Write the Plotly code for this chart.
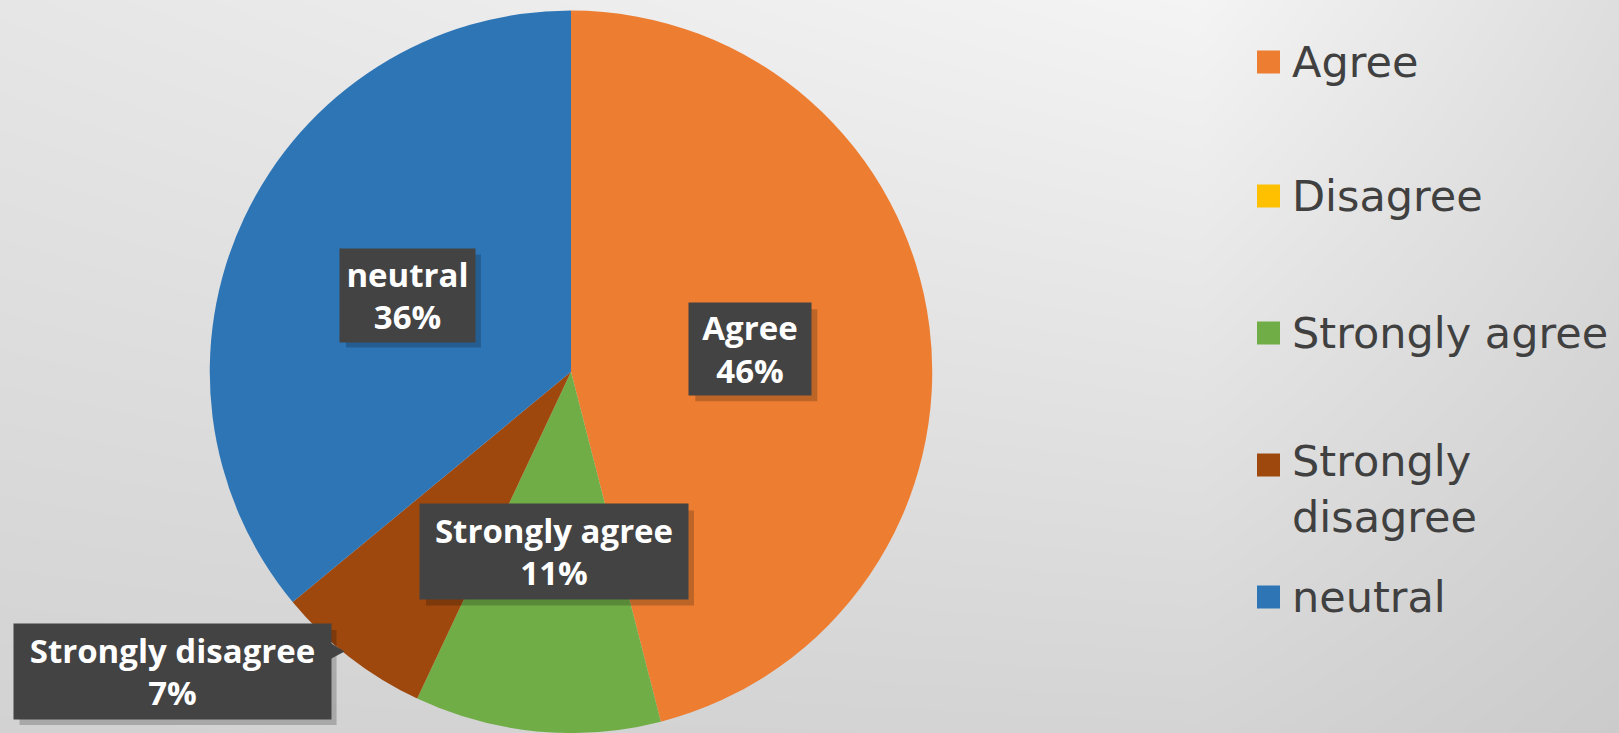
import math
import plotly.graph_objects as go

# ---- data ----
categories = ["Agree", "Disagree", "Strongly agree", "Strongly disagree", "neutral"]
percent_values = [46, 0, 11, 7, 36]
slice_colors = ["#ED7D31", "#FFC000", "#70AD47", "#9E480E", "#2E75B6"]

W, H = 1619, 733

# pie geometry (pixels)
CX, CY, R = 571, 372, 361.5

# label box style (width, height) and placement tweaks (radius factor, angle nudge in degrees)
label_box = {
    "Agree": (122, 92), "neutral": (135, 93),
    "Strongly agree": (268, 95), "Strongly disagree": (317, 95),
}
label_place = {"Strongly disagree": (1.38, 15.3)}

fig = go.Figure()

# background gradient (style only) drawn as a smoothed heatmap in pixel space
bg_x = [0, 1200, W]
bg_y = [0, H]
bg_z = [[230, 244, 222], [210, 212, 203]]
fig.add_trace(go.Heatmap(
    x=bg_x, y=bg_y, z=bg_z, zsmooth="best", zmin=0, zmax=255,
    colorscale=[[0, "rgb(0,0,0)"], [1, "rgb(255,255,255)"]],
    showscale=False, hoverinfo="skip",
))

y0 = max(0.0, 1 - (CY + R) / H)
y1 = 1 - (CY - R) / H
fig.add_trace(go.Pie(
    labels=categories, values=percent_values, sort=False, direction="clockwise",
    rotation=0, marker=dict(colors=slice_colors, line=dict(width=0)),
    textinfo="none", showlegend=False, hoverinfo="label+percent",
    domain=dict(x=[(CX - R) / W, (CX + R) / W], y=[y0, y1]),
))

shapes = []
annotations = []

# data labels positioned from the slice angles
total = sum(percent_values)
cum = 0
label_font = dict(family="Open Sans", size=33, color="white", weight="bold")
box_color = "#434343"
for cat, v in zip(categories, percent_values):
    start = cum
    cum += v
    if v == 0:
        continue
    mid = (start + v / 2) / total * 2 * math.pi
    f, dang = label_place.get(cat, (0.5, 0.0))
    ang = mid + math.radians(dang)
    px = CX + f * R * math.sin(ang)
    py = CY - f * R * math.cos(ang)
    pct = round(v / total * 100)
    bw, bh = label_box[cat]
    # shadow
    shapes.append(dict(type="rect", xref="x", yref="y", layer="above",
                       x0=px - bw / 2 + 6, x1=px + bw / 2 + 6,
                       y0=py - bh / 2 + 6, y1=py + bh / 2 + 6,
                       fillcolor="rgba(0,0,0,0.20)", line=dict(width=0)))
    annotations.append(dict(
        x=px, y=py, xref="x", yref="y", text=f"{cat}<br>{pct}%", showarrow=False,
        font=label_font, bgcolor=box_color, borderpad=0, width=bw, height=bh,
        align="center", valign="middle",
    ))
    if cat == "Strongly disagree":
        rx = px + bw / 2
        shapes.append(dict(
            type="path", xref="x", yref="y",
            path=f"M {rx - 1} {py - 29} L {rx + 14} {py - 20} L {rx - 1} {py - 12} Z",
            fillcolor=box_color, line=dict(width=0), layer="above",
        ))

# legend panel
shapes.append(dict(type="rect", xref="x", yref="y", x0=1231, x1=W + 5, y0=20, y1=690,
                   fillcolor="rgba(255,255,255,0.38)", line=dict(width=0), layer="below"))

legend_y = [62, 196, 333, 465, 597]
legend_font = dict(family="DejaVu Sans", size=43, color="#404040")
for cat, col, ly in zip(categories, slice_colors, legend_y):
    shapes.append(dict(type="rect", xref="x", yref="y", x0=1257, x1=1280,
                       y0=ly - 11.5, y1=ly + 11.5, fillcolor=col, line=dict(width=0)))
    if cat == "Strongly disagree":
        annotations.append(dict(x=1290, y=ly - 31, xref="x", yref="y",
                                text=cat.replace(" ", "<br>"), showarrow=False,
                                xanchor="left", yanchor="top", align="left",
                                font=legend_font))
    else:
        annotations.append(dict(x=1290, y=ly, xref="x", yref="y", text=cat,
                                showarrow=False, xanchor="left", yanchor="middle",
                                font=legend_font))

fig.update_layout(
    width=W, height=H,
    margin=dict(l=0, r=0, t=0, b=0),
    paper_bgcolor="#e0e0e0", plot_bgcolor="#e0e0e0",
    xaxis=dict(range=[0, W], visible=False, domain=[0, 1], fixedrange=True),
    yaxis=dict(range=[H, 0], visible=False, domain=[0, 1], fixedrange=True),
    shapes=shapes, annotations=annotations, showlegend=False,
)

fig.write_html("out.html")
